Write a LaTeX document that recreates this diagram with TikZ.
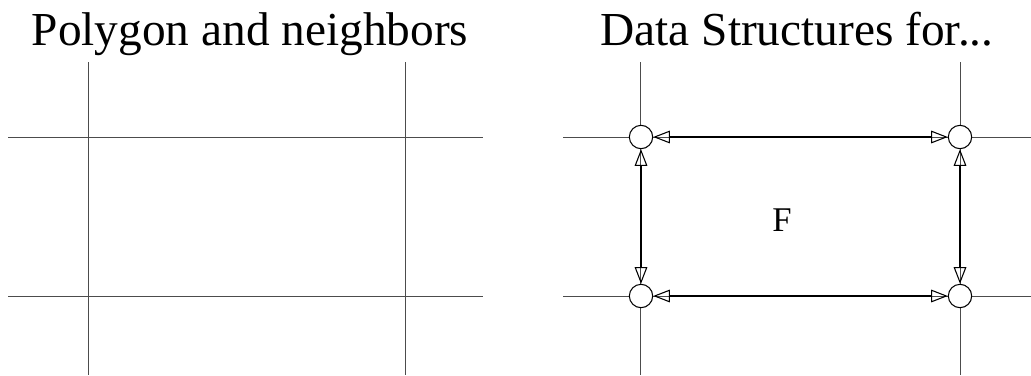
\documentclass[tikz,border=0pt]{standalone}
\usepackage{fontspec}
\setmainfont{Liberation Serif}
\usetikzlibrary{arrows.meta}

\begin{document}
\begin{tikzpicture}[x=0.75pt,y=-0.75pt,
  grid/.style={line width=0.75pt,black!70},
  vtx/.style={circle,draw,fill=white,line width=0.8pt,minimum size=17.5pt,inner sep=0pt},
  link/.style={line width=1.4pt,{Triangle[open,length=12.5pt,width=9.5pt,line width=0.8pt]}-{Triangle[open,length=12.5pt,width=9.5pt,line width=0.8pt]}},
  title/.style={anchor=base,font=\fontsize{35.5}{40}\selectfont}]
\useasboundingbox (0,0) rectangle (1031,375);
\node[title] (t1) at (250,45) {Polygon and neighbors};
\node[title] (t2) at (797,45) {Data Structures for...};
% left: polygon
\draw[grid] (88,62)--(88,375);
\draw[grid] (405,62)--(405,375);
\draw[grid] (8,137)--(483,137);
\draw[grid] (8,296)--(483,296);
% right: vertices and edges
\draw[grid] (640,62)--(640,375);
\draw[grid] (960,62)--(960,375);
\draw[grid] (563,137)--(1031,137);
\draw[grid] (563,296)--(1031,296);
\node[vtx] (a) at (641,137) {};
\node[vtx] (b) at (960,137) {};
\node[vtx] (c) at (641,296) {};
\node[vtx] (d) at (960,296) {};
\draw[link] (a)--(b);
\draw[link] (c)--(d);
\draw[link] (a)--(c);
\draw[link] (b)--(d);
\node[font=\fontsize{26}{30}\selectfont] (f) at (782,220) {F};
\end{tikzpicture}
\end{document}
